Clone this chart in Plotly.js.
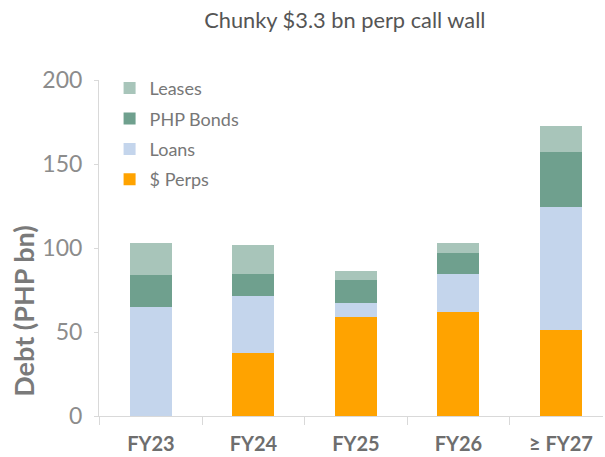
<!DOCTYPE html>
<html><head><meta charset="utf-8">
<script src="https://cdn.plot.ly/plotly-3.0.1.min.js"></script>
<style>html,body{margin:0;padding:0;background:#fff}</style>
</head><body>
<div id="chart" style="width:605px;height:457px"></div>
<script>
const categories = ["FY23", "FY24", "FY25", "FY26", "≥ FY27"];
const perps  = [0, 37.3, 59.1, 62.1, 51.2];
const loans  = [64.7, 34.1, 8.4, 22.4, 73.4];
const bonds  = [19.2, 13.1, 13.5, 12.3, 32.4];
const leases = [19.3, 17.1, 5.5, 6.2, 15.6];
const yTicks = [0, 50, 100, 150, 200];

function tr(name, y, color, rank) {
  return {type: "bar", name: name, x: categories, y: y, legendgroup: name, legendrank: rank,
    marker: {color: color, line: {width: 0}}, hoverinfo: "skip"};
}
const data = [
  tr("$ Perps", perps, "#FFA300", 4),
  tr("Loans", loans, "#C4D5EC", 3),
  tr("PHP Bonds", bonds, "#6FA08E", 2),
  tr("Leases", leases, "#A8C5BA", 1)
];
const layout = {
  width: 605, height: 457,
  margin: {l: 99, r: 2, t: 80, b: 41},
  paper_bgcolor: "#fff", plot_bgcolor: "#fff",
  font: {family: "Lato, 'Open Sans', sans-serif", color: "#666"},
  title: {text: "Chunky $3.3 bn perp call wall", x: 0.57, xanchor: "center", y: 0.955, yanchor: "middle",
    font: {size: 21.8, color: "#555", family: "Lato, sans-serif"}},
  barmode: "stack",
  bargap: 0.59,
  showlegend: true,
  legend: {x: 0.021, y: 1.03, xanchor: "left", yanchor: "top", traceorder: "grouped",
    tracegroupgap: 4, font: {size: 18, color: "#777"}, bgcolor: "rgba(0,0,0,0)", itemwidth: 30},
  xaxis: {type: "category", range: [-0.507, 4.41], showline: true, linecolor: "#d9d9d9", linewidth: 1,
    ticks: "outside", tickson: "boundaries", ticklen: 8, tickcolor: "#d9d9d9", ticklabelstandoff: 10,
    tickfont: {size: 20, color: "#6e6e6e", family: "Lato, sans-serif", weight: "bold"}, showgrid: false, zeroline: false, fixedrange: true},
  yaxis: {range: [0, 200], tickvals: yTicks, ticktext: yTicks.map(String), showline: true, linecolor: "#d9d9d9", linewidth: 1,
    ticks: "outside", ticklen: 4, tickcolor: "#d9d9d9", showgrid: false, zeroline: false, ticklabelstandoff: 7,
    tickfont: {size: 23, color: "#8c8c8c"}},
  annotations: [{text: "<b>Debt (PHP bn)</b>", xref: "paper", yref: "paper", x: -0.149, y: 0.313,
    xanchor: "center", yanchor: "middle", textangle: -90, showarrow: false,
    font: {size: 27, color: "#7a7a7a", family: "Lato, sans-serif"}}]
};
Plotly.newPlot("chart", data, layout, {displayModeBar: false, staticPlot: true});
</script>
</body></html>
